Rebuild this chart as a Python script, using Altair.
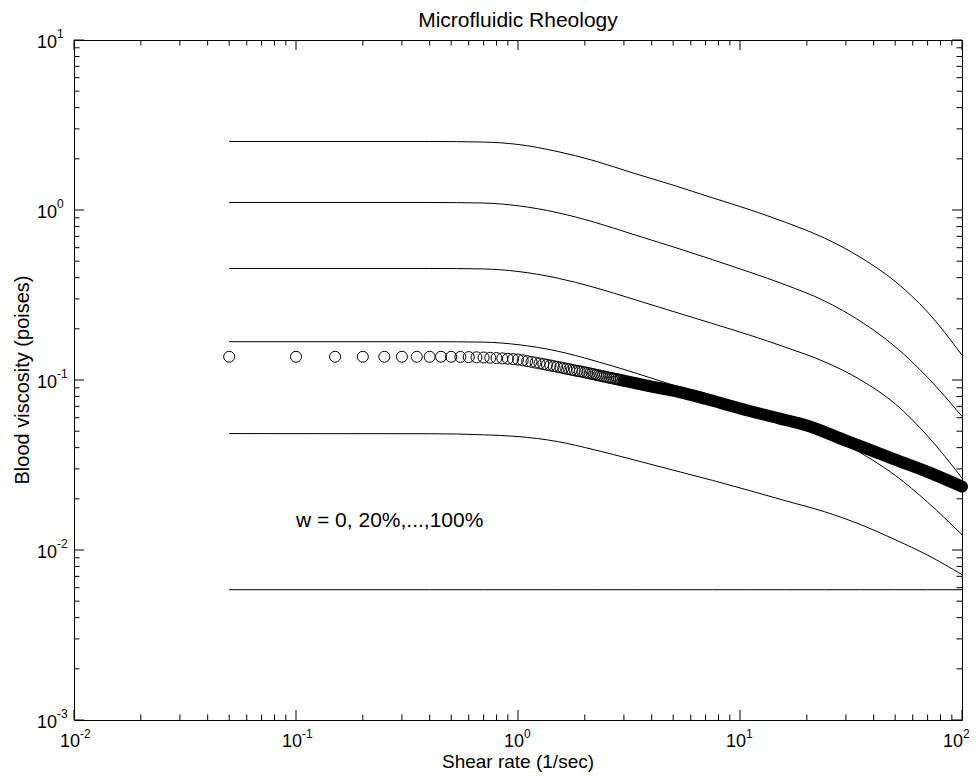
import altair as alt
import pandas as pd

# ---------------- data ----------------
x_knots = [0.05, 0.4, 0.7, 1, 1.5, 2.2, 3.3, 5, 7.5, 11, 16, 24, 35, 50, 70, 100]
w_100 = [2.53, 2.53, 2.51, 2.43, 2.21, 1.95, 1.65, 1.40, 1.18, 1.007, 0.847, 0.684, 0.525, 0.380, 0.251, 0.140]
w_80 = [1.107, 1.107, 1.099, 1.059, 0.966, 0.849, 0.719, 0.607, 0.511, 0.432, 0.363, 0.292, 0.221, 0.157, 0.1035, 0.0611]
w_60 = [0.453, 0.453, 0.450, 0.435, 0.398, 0.351, 0.299, 0.253, 0.215, 0.184, 0.156, 0.128, 0.100, 0.0724, 0.0468, 0.0265]
w_40 = [0.168, 0.168, 0.167, 0.1614, 0.148, 0.130, 0.111, 0.0933, 0.0794, 0.0684, 0.0582, 0.0479, 0.0372, 0.0275, 0.0191, 0.0123]
w_20 = [0.0484, 0.0483, 0.0476, 0.0465, 0.0435, 0.0389, 0.0340, 0.0295, 0.0257, 0.0224, 0.0195, 0.0168, 0.0141, 0.0115, 0.00933, 0.00716]
w_0 = [0.00584] * len(x_knots)

# measured blood data (open circles), sparse part
circ_x = [0.05, 0.10, 0.15, 0.20, 0.25, 0.30, 0.35, 0.40, 0.45, 0.50,
          0.55, 0.60, 0.65, 0.70, 0.75, 0.80, 0.85, 0.90, 0.95, 1.00,
          1.05, 1.10, 1.15, 1.20, 1.25, 1.30, 1.35, 1.40, 1.45, 1.50,
          1.55, 1.60, 1.65, 1.70, 1.75, 1.80, 1.85, 1.90, 1.95, 2.00,
          2.05, 2.10, 2.15, 2.20, 2.25, 2.30, 2.35, 2.40, 2.45, 2.50,
          2.55, 2.60, 2.65, 2.70, 2.75, 2.80, 2.85, 2.90, 2.95, 3.00]
circ_y = [0.137, 0.137, 0.137, 0.137, 0.137, 0.137, 0.137, 0.137, 0.137, 0.1369,
          0.1367, 0.1364, 0.1360, 0.1356, 0.1351, 0.1346, 0.1340, 0.1334, 0.1327, 0.1320,
          0.1305, 0.1291, 0.1278, 0.1265, 0.1252, 0.1240, 0.1228, 0.1217, 0.1206, 0.1196,
          0.1186, 0.1176, 0.1166, 0.1157, 0.1148, 0.1139, 0.1131, 0.1125, 0.1117, 0.1109,
          0.1101, 0.1094, 0.1087, 0.1080, 0.1073, 0.1066, 0.1060, 0.1053, 0.1047, 0.1041,
          0.1035, 0.1030, 0.1024, 0.1019, 0.1014, 0.1009, 0.1004, 0.0999, 0.0994, 0.0990]
# dense part of the same data (circles merge into a solid band)
band_x = [3, 4, 5, 7, 10, 15, 20, 30, 50, 70, 100]
band_y = [0.099, 0.0915, 0.0865, 0.0775, 0.068, 0.0595, 0.054, 0.044, 0.034, 0.0288, 0.0236]

x_major = [0.01, 0.1, 1, 10, 100]
x_exp = ["-2", "-1", "0", "1", "2"]
y_major = [0.001, 0.01, 0.1, 1, 10]
y_exp = ["-3", "-2", "-1", "0", "1"]
minor_mult = [2, 3, 4, 5, 6, 7, 8, 9]
x_decades = [0.01, 0.1, 1, 10]
y_decades = [0.001, 0.01, 0.1, 1]

title_text = "Microfluidic Rheology"
xlabel_text = "Shear rate (1/sec)"
ylabel_text = "Blood viscosity (poises)"
note_text = "w = 0, 20%,...,100%"
note_pos = (0.1, 0.0137)

# ---------------- chart ----------------
W, H = 888, 680
FONT = "Liberation Sans"
xs = alt.Scale(type="log", domain=[0.01, 100], nice=False)
ys = alt.Scale(type="log", domain=[0.001, 10], nice=False)

series = {"0%": w_0, "20%": w_20, "40%": w_40, "60%": w_60, "80%": w_80, "100%": w_100}
rows = []
for name, vals in series.items():
    for xv, yv in zip(x_knots, vals):
        rows.append({"w": name, "x": xv, "y": yv})
lines_df = pd.DataFrame(rows)

lines = alt.Chart(lines_df).mark_line(color="black", strokeWidth=1, interpolate="monotone").encode(
    x=alt.X("x:Q", scale=xs, axis=None),
    y=alt.Y("y:Q", scale=ys, axis=None),
    detail="w:N",
)

circles = alt.Chart(pd.DataFrame({"x": circ_x, "y": circ_y})).mark_point(
    shape="circle", filled=False, size=121, color="black", strokeWidth=1, opacity=1
).encode(x=alt.X("x:Q", scale=xs, axis=None), y=alt.Y("y:Q", scale=ys, axis=None))

band = alt.Chart(pd.DataFrame({"x": band_x, "y": band_y})).mark_line(
    color="black", strokeWidth=12, strokeCap="round", interpolate="monotone"
).encode(x=alt.X("x:Q", scale=xs, axis=None), y=alt.Y("y:Q", scale=ys, axis=None))

x_minor = [m * d for d in x_decades for m in minor_mult]
y_minor = [m * d for d in y_decades for m in minor_mult]

MAJ, MIN = 10, 5.5


def xtick_layers(vals, length):
    df = pd.DataFrame({"v": vals})
    enc_x = alt.X("v:Q", scale=xs, axis=None)
    b = alt.Chart(df).mark_rule(color="black", strokeWidth=1).encode(
        x=enc_x, y=alt.value(H), y2=alt.value(H - length))
    t = alt.Chart(df).mark_rule(color="black", strokeWidth=1).encode(
        x=enc_x, y=alt.value(0), y2=alt.value(length))
    return [b, t]


def ytick_layers(vals, length):
    df = pd.DataFrame({"v": vals})
    enc_y = alt.Y("v:Q", scale=ys, axis=None)
    l = alt.Chart(df).mark_rule(color="black", strokeWidth=1).encode(
        y=enc_y, x=alt.value(0), x2=alt.value(length))
    r = alt.Chart(df).mark_rule(color="black", strokeWidth=1).encode(
        y=enc_y, x=alt.value(W), x2=alt.value(W - length))
    return [l, r]


ticks = (xtick_layers(x_major, MAJ) + xtick_layers(x_minor, MIN)
         + ytick_layers(y_major, MAJ) + ytick_layers(y_minor, MIN))

BASE_FS, SUP_FS = 18, 12


def xlabel_layers(vals, exps, shift):
    df = pd.DataFrame({"v": vals, "e": exps, "b": ["10"] * len(vals)})
    base = alt.Chart(df).mark_text(
        font=FONT, fontSize=BASE_FS, align="right", baseline="alphabetic", dx=shift, color="black"
    ).encode(x=alt.X("v:Q", scale=xs, axis=None), y=alt.value(H + 27), text="b:N")
    sup = alt.Chart(df).mark_text(
        font=FONT, fontSize=SUP_FS, align="left", baseline="alphabetic", dx=shift, color="black"
    ).encode(x=alt.X("v:Q", scale=xs, axis=None), y=alt.value(H + 17.5), text="e:N")
    return [base, sup]


# the last label is nudged left so it stays inside the page
xlabels = xlabel_layers(x_major[:-1], x_exp[:-1], 6) + xlabel_layers(x_major[-1:], x_exp[-1:], 1)

ylab_df = pd.DataFrame({"v": y_major, "e": y_exp, "b": ["10"] * 5})
ylab_base = alt.Chart(ylab_df).mark_text(
    font=FONT, fontSize=BASE_FS, align="left", baseline="alphabetic", dy=7.5, color="black"
).encode(y=alt.Y("v:Q", scale=ys, axis=None), x=alt.value(-37), text="b:N")
ylab_exp = alt.Chart(ylab_df).mark_text(
    font=FONT, fontSize=SUP_FS, align="left", baseline="alphabetic", dy=-2.5, color="black"
).encode(y=alt.Y("v:Q", scale=ys, axis=None), x=alt.value(-17), text="e:N")

one = pd.DataFrame({"t": [0]})
title = alt.Chart(one).mark_text(
    text=title_text, font=FONT, fontSize=21, align="center", baseline="alphabetic", color="black"
).encode(x=alt.value(W / 2), y=alt.value(-13))
xtitle = alt.Chart(one).mark_text(
    text=xlabel_text, font=FONT, fontSize=19, align="center", baseline="alphabetic", color="black"
).encode(x=alt.value(W / 2), y=alt.value(H + 48))
ytitle = alt.Chart(one).mark_text(
    text=ylabel_text, font=FONT, fontSize=20, align="center", baseline="alphabetic",
    angle=270, color="black"
).encode(x=alt.value(-45), y=alt.value(H / 2))

note = alt.Chart(pd.DataFrame({"x": [note_pos[0]], "y": [note_pos[1]], "t": [note_text]})).mark_text(
    font=FONT, fontSize=21, align="left", baseline="alphabetic", color="black"
).encode(x=alt.X("x:Q", scale=xs, axis=None), y=alt.Y("y:Q", scale=ys, axis=None), text="t:N")

chart = alt.layer(
    lines, circles, band, *ticks, *xlabels, ylab_base, ylab_exp,
    title, xtitle, ytitle, note
).properties(
    width=W, height=H,
    autosize=alt.AutoSizeParams(type="none"),
    padding={"left": 66, "top": 32, "right": 8, "bottom": 52},
).configure_view(stroke="black", strokeWidth=1)

chart.save("out.html", embed_options={"renderer": "svg", "actions": False})
